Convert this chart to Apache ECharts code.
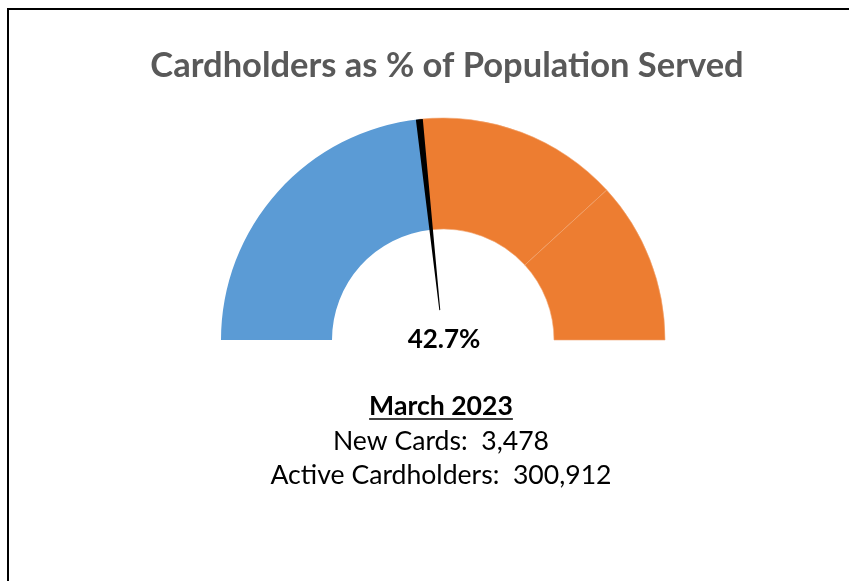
<!DOCTYPE html>
<html>
<head>
<meta charset="utf-8">
<script src="https://cdn.jsdelivr.net/npm/echarts@6/dist/echarts.min.js"></script>
<style>
html,body{margin:0;padding:0;background:#fff;}
#chart{width:849px;height:581px;}
</style>
</head>
<body>
<div id="chart"></div>
<script>
// ---- data ----
const titleText = 'Cardholders as % of Population Served';
const bandNames = ['Achieved', 'Range A', 'Range B'];
const bandValues = [46.6, 29.8, 23.6];        // share of the half ring (%)
const needlePosition = 46.6;                  // needle position on the half ring (%)
const needleWidth = 1.0;                      // needle thickness (%)
const valueLabel = '42.7%';
const periodLabel = 'March 2023';
const infoLines = ['New Cards:  3,478', 'Active Cardholders:  300,912'];

// ---- styles ----
const blue = '#5B9BD5', orange = '#ED7D31';
const font = 'Lato, "Open Sans", sans-serif';
const cx = 443, cy = 340, rOuter = 222, rInner = 111;

const chart = echarts.init(document.getElementById('chart'), null, {renderer: 'canvas'});

const half = bandValues.reduce((a, b) => a + b, 0);
const ringData = bandValues.map((v, i) => ({
  name: bandNames[i], value: v,
  itemStyle: i === 0 ? {color: blue} : {color: orange, borderColor: '#F2A672', borderWidth: 0.6}
}));
ringData.push({name: 'hidden', value: half, itemStyle: {color: 'transparent'}});

const needleData = [
  {name: 'pre', value: needlePosition - needleWidth / 2, itemStyle: {color: 'transparent'}},
  {name: 'needle', value: needleWidth, itemStyle: {color: '#000'}},
  {name: 'post', value: 2 * half - needlePosition - needleWidth / 2, itemStyle: {color: 'transparent'}}
];

function textWidth(txt, f) {
  const c = document.createElement('canvas').getContext('2d');
  c.font = f; return c.measureText(txt).width;
}
const bodySize = 26.6;
const periodFont = 'bold ' + bodySize + 'px ' + font;
const pw = textWidth(periodLabel, periodFont);

const common = {
  type: 'pie', center: [cx, cy], startAngle: 180, clockwise: true,
  silent: true, animation: false, label: {show: false}, labelLine: {show: false},
  emphasis: {disabled: true}, avoidLabelOverlap: false, minAngle: 0
};

chart.setOption({
  backgroundColor: '#fff',
  series: [
    Object.assign({}, common, {name: 'ring', radius: [rInner, rOuter], data: ringData, z: 2}),
    Object.assign({}, common, {name: 'needle', radius: [30, rOuter], data: needleData, z: 3})
  ],
  graphic: [
    {type: 'rect', shape: {x: 8, y: 9, width: 900, height: 700}, style: {fill: 'none', stroke: '#000', lineWidth: 2}, z: 10, silent: true},
    {type: 'text', x: 447, y: 66, style: {text: titleText, font: 'bold 34.5px ' + font, fill: '#595959', align: 'center', verticalAlign: 'middle'}},
    {type: 'text', x: 444, y: 340, style: {text: valueLabel, font: 'bold 26px ' + font, fill: '#000', align: 'center', verticalAlign: 'middle'}, z: 20},
    {type: 'text', x: 441, y: 406, style: {text: periodLabel, font: periodFont, fill: '#000', align: 'center', verticalAlign: 'middle'}},
    {type: 'line', shape: {x1: 441 - pw / 2, y1: 419, x2: 441 + pw / 2, y2: 419}, style: {stroke: '#000', lineWidth: 1.5}},
    {type: 'text', x: 441, y: 441, style: {text: infoLines[0], font: bodySize + 'px ' + font, fill: '#000', align: 'center', verticalAlign: 'middle'}},
    {type: 'text', x: 441, y: 475, style: {text: infoLines[1], font: bodySize + 'px ' + font, fill: '#000', align: 'center', verticalAlign: 'middle'}}
  ]
});
</script>
</body>
</html>
